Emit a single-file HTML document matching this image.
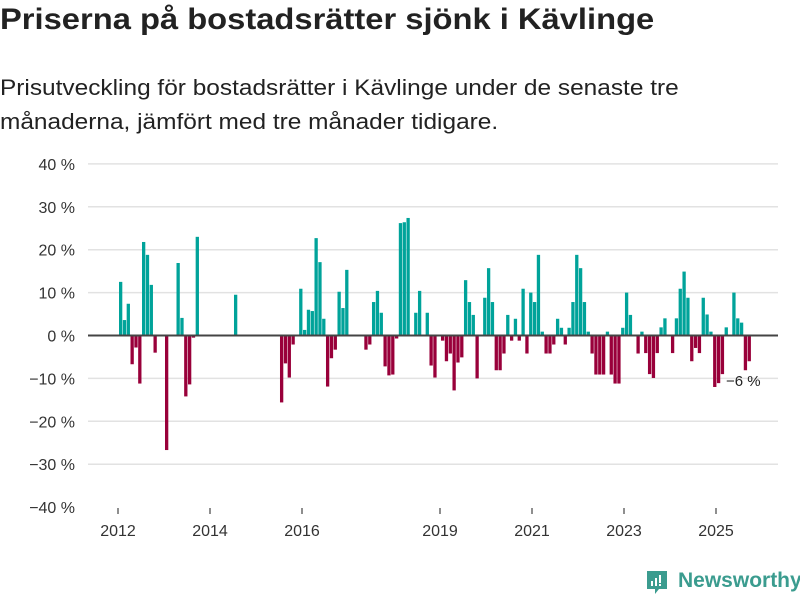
<!DOCTYPE html>
<html><head><meta charset="utf-8"><style>
body{margin:0;background:#fff;}
#wrap{position:relative;width:800px;height:600px;overflow:hidden;font-family:"Liberation Sans",sans-serif;color:#222;}
h1{position:absolute;left:0;top:3px;margin:0;font-size:30px;font-weight:bold;transform:scaleX(1.09);transform-origin:left top;white-space:nowrap;}
p.sub{position:absolute;left:0;top:71px;margin:0;font-size:22px;line-height:34px;color:#222;transform:scaleX(1.11);transform-origin:left top;white-space:nowrap;}
svg{position:absolute;left:0;top:0;}
</style></head><body>
<div id="wrap">
<h1>Priserna på bostadsrätter sjönk i Kävlinge</h1>
<p class="sub">Prisutveckling för bostadsrätter i Kävlinge under de senaste tre<br>månaderna, jämfört med tre månader tidigare.</p>
<svg id="chart" width="800" height="600"></svg>
<div style="position:absolute;left:645px;top:569px;width:24px;height:24px;">
<svg width="24" height="28" viewBox="0 0 24 28"><path d="M2 2h20v18H14l-4 5v-5H2z" fill="#3b9c8f"/><rect x="6" y="12" width="2" height="5" fill="#fff"/><rect x="10" y="9" width="2" height="8" fill="#fff"/><rect x="14" y="6" width="2" height="8" fill="#fff"/><rect x="14" y="15" width="2" height="2" fill="#fff"/></svg></div>
<div style="position:absolute;left:678px;top:569px;font-size:21px;color:#3b9c8f;font-weight:bold;">Newsworthy</div>
</div>
<script>
const monthIdx=[0,1,2,3,4,5,6,7,8,9,12,15,16,17,18,19,20,30,42,43,44,45,47,48,49,50,51,52,53,54,55,56,57,58,59,64,65,66,67,68,69,70,71,72,73,74,75,77,78,80,81,82,84,85,86,87,88,89,90,91,92,93,95,96,97,98,99,100,101,102,103,104,105,106,107,108,109,110,111,112,113,114,115,116,117,118,119,120,121,122,123,124,125,126,127,128,129,130,131,132,133,135,136,137,138,139,140,141,142,144,145,146,147,148,149,150,151,152,153,154,155,156,157,158,160,161,162,163,164];
const values=[12.5,3.6,7.4,-6.7,-2.8,-11.2,21.8,18.8,11.8,-4,-26.7,16.9,4.1,-14.2,-11.4,-0.5,23,9.5,-15.6,-6.5,-9.8,-2.1,10.9,1.3,6,5.7,22.7,17.1,3.9,-11.9,-5.3,-3.3,10.2,6.4,15.3,-3.3,-2.1,7.8,10.4,5.3,-7.2,-9.3,-9.1,-0.7,26.2,26.4,27.4,5.3,10.4,5.3,-7,-9.8,-1.2,-6,-4.2,-12.8,-6.3,-5.1,12.9,7.8,4.8,-10,8.8,15.7,7.8,-8.1,-8.1,-4.2,4.8,-1.2,3.9,-1.2,10.9,-4.2,10,7.8,18.8,0.9,-4.2,-4.2,-2.1,3.9,1.8,-2.1,1.8,7.8,18.8,15.7,7.8,0.9,-4.2,-9.1,-9.1,-9.1,0.9,-9.1,-11.2,-11.2,1.8,10,4.8,-4.2,0.9,-4.1,-9,-9.9,-4.1,1.9,4,-4.1,4,10.9,14.9,8.8,-6,-2.9,-4.1,8.8,4.9,0.9,-12,-11.1,-9,1.9,10,4,3,-8.1,-6];
const yTicks=[40,30,20,10,0,-10,-20,-30,-40];
const xTickYears=[2012,2014,2016,2019,2021,2023,2025];
const lastLabel="−6 %";

const svg=document.getElementById('chart');
const NS='http://www.w3.org/2000/svg';
const y=v=>335.5-v*4.29;
const xm=m=>119+m*3.833;
const xy=yr=>118+(yr-2012)*46;
function mk(t,a){const e=document.createElementNS(NS,t);for(const k in a)e.setAttribute(k,a[k]);svg.appendChild(e);return e;}
yTicks.forEach(t=>{
  if(t!==0&&t!==-40){const g=mk('line',{x1:88,x2:778,y1:y(t),y2:y(t),stroke:'#e2e2e2','stroke-width':1.5});
  
  }
  const l=mk('text',{x:75,y:y(t)+6,'text-anchor':'end','font-size':16,fill:'#333','font-family':'Liberation Sans, sans-serif'});
  l.textContent=(t<0?'−':'')+Math.abs(t)+' %';
  
  
});
monthIdx.forEach((m,i)=>{
  const v=values[i];
  const r=mk('rect',{x:xm(m),width:3.3,y:v>=0?y(v):y(0),height:Math.abs(y(v)-y(0)),fill:v>=0?'#00a39a':'#99003a'});
  
  
});
const z=mk('line',{x1:88,x2:778,y1:y(0),y2:y(0),stroke:'#444','stroke-width':2});


xTickYears.forEach(yr=>{
  const tk=mk('line',{x1:xy(yr),x2:xy(yr),y1:508,y2:514,stroke:'#444','stroke-width':1.2});
  
  
  const l=mk('text',{x:xy(yr),y:536,'text-anchor':'middle','font-size':16,fill:'#333','font-family':'Liberation Sans, sans-serif'});
  l.textContent=yr;
  
  
});
const last=values[values.length-1];
const ll=mk('text',{x:726,y:y(last)+25,'font-size':15,fill:'#222','font-family':'Liberation Sans, sans-serif'});
ll.textContent=lastLabel;


</script>
</body></html>
